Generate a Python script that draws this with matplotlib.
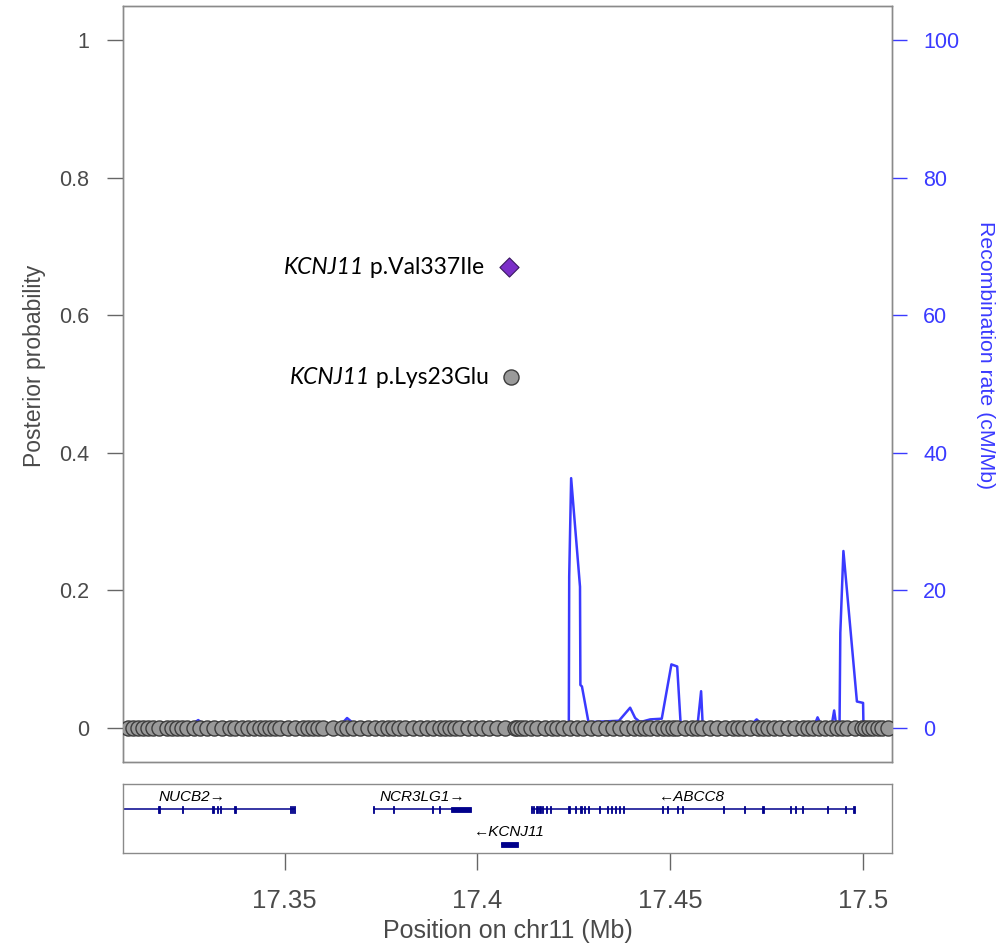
import numpy as np
import matplotlib
matplotlib.use("Agg")
import matplotlib.pyplot as plt

plt.rcParams["font.family"] = ["Liberation Sans", "DejaVu Sans"]

# credible-set variants with (near) zero posterior probability, positions in Mb
snp_pos = [17.3094, 17.3107, 17.3120, 17.3133, 17.3146, 17.3160, 17.3174, 17.3195,
           17.3208, 17.3221, 17.3234, 17.3247, 17.3264, 17.3281, 17.3299, 17.3318,
           17.3338, 17.3358, 17.3371, 17.3390, 17.3405, 17.3420, 17.3436, 17.3449,
           17.3462, 17.3475, 17.3488, 17.3510, 17.3527, 17.3548, 17.3561, 17.3574,
           17.3587, 17.3600, 17.3625, 17.3649, 17.3663, 17.3677, 17.3696, 17.3716,
           17.3735, 17.3753, 17.3768, 17.3781, 17.3796, 17.3812, 17.3833, 17.3850,
           17.3869, 17.3886, 17.3903, 17.3916, 17.3929, 17.3942, 17.3955, 17.3976,
           17.3994, 17.4012, 17.4030, 17.4051, 17.4072, 17.4098, 17.4103, 17.4112,
           17.4124, 17.4140, 17.4155, 17.4175, 17.4194, 17.4207, 17.4222, 17.4240,
           17.4257, 17.4274, 17.4294, 17.4313, 17.4333, 17.4352, 17.4370, 17.4388,
           17.4405, 17.4422, 17.4435, 17.4448, 17.4465, 17.4482, 17.4495, 17.4507,
           17.4518, 17.4537, 17.4557, 17.4570, 17.4583, 17.4603, 17.4622, 17.4642,
           17.4663, 17.4676, 17.4689, 17.4708, 17.4728, 17.4741, 17.4754, 17.4770,
           17.4785, 17.4805, 17.4824, 17.4845, 17.4858, 17.4871, 17.4887, 17.4902,
           17.4918, 17.4933, 17.4946, 17.4959, 17.4980, 17.4997, 17.5005, 17.5015,
           17.5026, 17.5038, 17.5049, 17.5065]
snp_pp = [0.0] * len(snp_pos)

# annotated coding variants
lead_pos, lead_pp = 17.4082, 0.67
lead_name = "p.Val337Ile"
second_pos, second_pp = 17.4087, 0.51
second_name = "p.Lys23Glu"
variant_gene = "KCNJ11"

# recombination rate (cM/Mb)
recomb_pos = [17.3050, 17.3255, 17.3276, 17.3294, 17.3644, 17.3662, 17.3683, 17.4214,
              17.4237, 17.4238, 17.4243, 17.4266, 17.4267, 17.4271, 17.4288, 17.4367,
              17.4396, 17.4409, 17.4422, 17.4448, 17.4478, 17.4503, 17.4518, 17.4527,
              17.4571, 17.4580, 17.4584, 17.4711, 17.4724, 17.4737, 17.4875, 17.4882,
              17.4890, 17.4919, 17.4925, 17.4930, 17.4939, 17.4941, 17.4949, 17.4984,
              17.5000, 17.5001, 17.5100]
recomb_rate = [0.3, 0.3, 1.1, 0.3, 0.3, 1.4, 0.4, 0.5,
               0.5, 22.0, 36.3, 20.5, 6.2, 6.0, 0.8, 1.0,
               2.9, 1.4, 0.8, 1.2, 1.3, 9.2, 8.9, 0.5,
               0.5, 5.3, 0.5, 0.5, 1.2, 0.5, 0.5, 1.5,
               0.5, 0.5, 2.5, 0.5, 0.5, 13.8, 25.7, 3.8,
               3.6, 0.3, 0.3]

# genes: name, start, end, strand, row, exons as (start, width)
gene_names = ["NUCB2", "NCR3LG1", "KCNJ11", "ABCC8"]
gene_start = [17.2993, 17.3729, 17.4061, 17.4138]
gene_end = [17.3527, 17.3983, 17.4105, 17.4975]
gene_strand = ["+", "+", "-", "-"]
gene_row = [1, 1, 0, 1]
gene_exons = [
    [(17.3171, 0.0003), (17.3175, 0.0003), (17.3233, 0.0003), (17.3313, 0.0003),
     (17.3324, 0.0003), (17.3333, 0.0003), (17.3370, 0.0003), (17.3514, 0.0003),
     (17.3519, 0.0003), (17.3524, 0.0003)],
    [(17.3729, 0.0003), (17.3780, 0.0003), (17.3882, 0.0003), (17.3900, 0.0003),
     (17.3932, 0.0051)],
    [(17.4061, 0.0044)],
    [(17.4138, 0.0004), (17.4144, 0.0004), (17.4152, 0.0004), (17.4160, 0.0004),
     (17.4167, 0.0004), (17.4178, 0.0003), (17.4188, 0.0003), (17.4236, 0.0003),
     (17.4253, 0.0003), (17.4266, 0.0004), (17.4277, 0.0003), (17.4287, 0.0003),
     (17.4314, 0.0003), (17.4335, 0.0003), (17.4346, 0.0003), (17.4357, 0.0003),
     (17.4367, 0.0003), (17.4378, 0.0003), (17.4478, 0.0003), (17.4491, 0.0003),
     (17.4517, 0.0003), (17.4530, 0.0003), (17.4636, 0.0004), (17.4692, 0.0003),
     (17.4739, 0.0003), (17.4811, 0.0003), (17.4824, 0.0003), (17.4841, 0.0003),
     (17.4906, 0.0003), (17.4953, 0.0003), (17.4975, 0.0003)],
]

xlim = (17.3081, 17.5075)
x_ticks = [17.35, 17.4, 17.45, 17.5]
x_ticklabels = ["17.35", "17.4", "17.45", "17.5"]
pp_ticks = [0, 0.2, 0.4, 0.6, 0.8, 1]
pp_ticklabels = ["0", "0.2", "0.4", "0.6", "0.8", "1"]
rate_ticks = [0, 20, 40, 60, 80, 100]

W, H = 1003, 946
fig = plt.figure(figsize=(W / 100, H / 100), dpi=100)

spine_col = "#8a8a8a"
text_col = "#4a4a4a"
blue = "#3a3aff"

ax = fig.add_axes([123 / W, 1 - 762 / H, 769 / W, 756 / H])
ax.set_xlim(*xlim)
ax.set_ylim(-0.05, 1.05)
ax.set_xticks([])
ax.set_yticks(pp_ticks)
ax.set_yticklabels(pp_ticklabels)
ax.tick_params(axis="y", length=11.5, width=1.0, color="#666666", pad=13,
               labelsize=15.5, labelcolor=text_col)
for s in ax.spines.values():
    s.set_color(spine_col)
    s.set_linewidth(1.0)
ax.set_ylabel("Posterior probability", fontsize=16.5, color=text_col)
ax.yaxis.set_label_coords(-0.100, (762 - 366) / 756)

# recombination rate on its own scale
ax2 = ax.twinx()
ax2.set_ylim(-5, 105)
ax2.set_yticks(rate_ticks)
ax2.tick_params(axis="y", length=11, width=1.0, color=blue, pad=11.5,
                labelsize=15.5, labelcolor=blue)
for s in ax2.spines.values():
    s.set_color(spine_col)
    s.set_linewidth(1.0)
ax2.plot(recomb_pos, recomb_rate, color=blue, lw=1.8, zorder=1)
ax2.set_ylabel("Recombination rate (cM/Mb)", fontsize=15.3, color=blue,
               rotation=270, va="center")
ax2.yaxis.set_label_coords(1.121, (762 - 355) / 756)

# draw the posterior axis above the recombination line
ax.set_zorder(ax2.get_zorder() + 1)
ax.patch.set_visible(False)

ax.scatter(snp_pos, snp_pp, s=118, facecolor="#9a9a9a", edgecolor="#3c3c3c",
           linewidth=1.0, zorder=3)
ax.scatter([second_pos], [second_pp], s=118, facecolor="#9a9a9a",
           edgecolor="#3c3c3c", linewidth=1.0, zorder=4)
ax.scatter([lead_pos], [lead_pp], s=95, marker="D", facecolor="#7b2fc8",
           edgecolor="#3a1860", linewidth=0.8, zorder=5)

# variant labels: gene name in italics followed by the protein change
lab_font = ["Lato", "DejaVu Sans"]
for pos, pp, name, dx in [(lead_pos, lead_pp, lead_name, -18),
                          (second_pos, second_pp, second_name, -16)]:
    t = ax.annotate(" " + name, (pos, pp), xytext=(dx, 0),
                    textcoords="offset points", fontsize=16.5, family=lab_font,
                    ha="right", va="center", color="black")
    ax.annotate(variant_gene, xy=(0, 0.5), xycoords=t, fontsize=16.5,
                family=lab_font, style="italic", ha="right", va="center",
                color="black")

# gene track
gx = fig.add_axes([123 / W, 1 - 853 / H, 769 / W, 69 / H])
gx.set_xlim(*xlim)
gx.set_ylim(0, 69)
gx.set_yticks([])
gx.set_xticks(x_ticks)
gx.set_xticklabels(x_ticklabels)
gx.tick_params(axis="x", length=12, width=1.0, color="#666666", pad=14,
               labelsize=18.5, labelcolor=text_col)
for s in gx.spines.values():
    s.set_color(spine_col)
    s.set_linewidth(1.0)
gx.set_xlabel("Position on chr11 (Mb)", fontsize=18, color=text_col)
gx.xaxis.set_label_coords(0.5, -(919 - 853) / 69)

navy = "#00008b"
row_y = {1: 44, 0: 9}
for name, g0, g1, strand, row, exons in zip(gene_names, gene_start, gene_end,
                                           gene_strand, gene_row, gene_exons):
    y = row_y[row]
    gx.plot([g0, g1], [y, y], color=navy, lw=1.1, solid_capstyle="butt")
    for e0, ew in exons:
        h = 5 if ew > 0.001 else 7
        gx.add_patch(plt.Rectangle((e0, y - h / 2), ew, h, facecolor=navy,
                                   edgecolor=navy, lw=0.6))
    label = name + "\u2192" if strand == "+" else "\u2190" + name
    gx.text((g0 + g1) / 2, y + 12, label, fontsize=11, style="italic",
            ha="center", va="center", color="black")

fig.savefig("out.png", dpi=100)
